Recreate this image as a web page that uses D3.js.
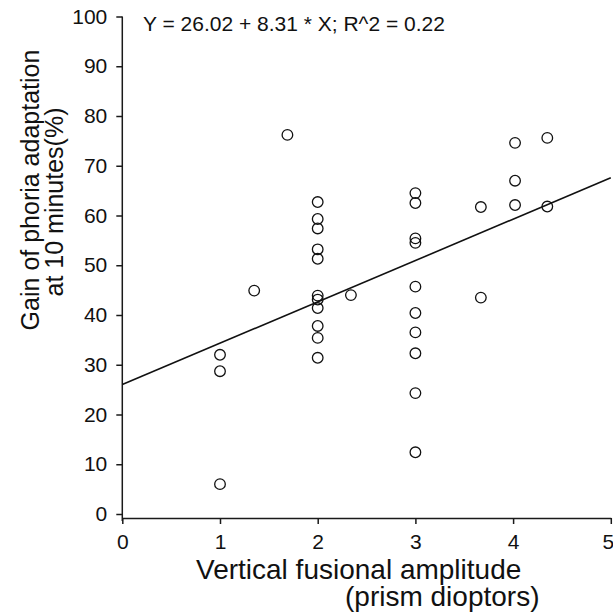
<!DOCTYPE html>
<html>
<head>
<meta charset="utf-8">
<script src="https://cdn.jsdelivr.net/npm/d3@7"></script>
<style>
  body { margin: 0; background: #fff; }
  svg { display: block; font-family: "Liberation Sans", Arial, sans-serif; }
</style>
</head>
<body>
<div id="chart"></div>
<script>
const width = 613;
const height = 616;

// scatter values
const xValues = [1, 1, 1, 1.35, 1.69,
  2, 2, 2, 2, 2, 2, 2, 2, 2, 2, 2,
  2.34,
  3, 3, 3, 3, 3, 3, 3, 3, 3, 3,
  3.67, 3.67,
  4.02, 4.02, 4.02,
  4.35, 4.35];
const yValues = [32.0, 28.7, 6.0, 44.9, 76.2,
  62.7, 59.3, 57.4, 53.2, 51.3, 43.9, 43.1, 41.4, 37.8, 35.4, 31.4,
  44.0,
  64.5, 62.5, 55.4, 54.5, 45.7, 40.4, 36.5, 32.3, 24.3, 12.4,
  61.7, 43.5,
  74.6, 67.0, 62.1,
  75.6, 61.8];

const fitIntercept = 26.02;
const fitSlope = 8.31;
const xTicks = [0, 1, 2, 3, 4, 5];
const yTicks = [0, 10, 20, 30, 40, 50, 60, 70, 80, 90, 100];

const x = d3.scaleLinear().domain([0, 5]).range([122.3, 610.8]);
const y = d3.scaleLinear().domain([0, 100]).range([514, 16.5]);
const xAxisY = 518;

const svg = d3.select("#chart").append("svg")
    .attr("width", width)
    .attr("height", height);

// y axis
const gy = svg.append("g")
    .attr("transform", `translate(${x(0)},0)`)
    .call(d3.axisLeft(y).tickValues(yTicks).tickSize(6).tickSizeOuter(0).tickPadding(9));
gy.select(".domain").attr("d", `M0,${y(100)}V${xAxisY + 3}`);

// x axis (sits a little below the y = 0 tick)
const gx = svg.append("g")
    .attr("transform", `translate(0,${xAxisY})`)
    .call(d3.axisBottom(x).tickValues(xTicks).tickFormat(d3.format("d"))
      .tickSize(6).tickSizeOuter(0).tickPadding(10));
// last label hugs the right edge
gx.selectAll(".tick text").filter(d => d === 5).attr("dx", -3);

svg.selectAll(".domain, .tick line")
    .attr("stroke", "#1a1a1a")
    .attr("stroke-width", 1.5);
svg.selectAll(".tick text")
    .attr("font-size", 21)
    .attr("font-family", "Liberation Sans, Arial, sans-serif")
    .attr("fill", "#111");

// regression line
svg.append("line")
    .attr("x1", x(0)).attr("y1", y(fitIntercept))
    .attr("x2", x(5)).attr("y2", y(fitIntercept + fitSlope * 5))
    .attr("stroke", "#111")
    .attr("stroke-width", 1.6);

// points
svg.append("g")
  .selectAll("circle")
  .data(xValues.map((v, i) => [v, yValues[i]]))
  .join("circle")
    .attr("cx", d => x(d[0]))
    .attr("cy", d => y(d[1]))
    .attr("r", 5.3)
    .attr("fill", "none")
    .attr("stroke", "#111")
    .attr("stroke-width", 1.3);

// equation
svg.append("text")
    .attr("x", 143)
    .attr("y", 31)
    .attr("font-size", 21)
    .attr("fill", "#111")
    .text("Y = 26.02 + 8.31 * X; R^2 = 0.22");

// axis titles
svg.append("text")
    .attr("x", 196)
    .attr("y", 579)
    .attr("font-size", 28)
    .attr("fill", "#111")
    .text("Vertical fusional amplitude");
svg.append("text")
    .attr("x", 345)
    .attr("y", 606)
    .attr("font-size", 28)
    .attr("fill", "#111")
    .text("(prism dioptors)");

svg.append("text")
    .attr("transform", "translate(39,190) rotate(-90)")
    .attr("text-anchor", "middle")
    .attr("font-size", 25)
    .attr("fill", "#111")
    .text("Gain of phoria adaptation");
svg.append("text")
    .attr("transform", "translate(63,202) rotate(-90)")
    .attr("text-anchor", "middle")
    .attr("font-size", 25)
    .attr("fill", "#111")
    .text("at 10 minutes(%)");
</script>
</body>
</html>
